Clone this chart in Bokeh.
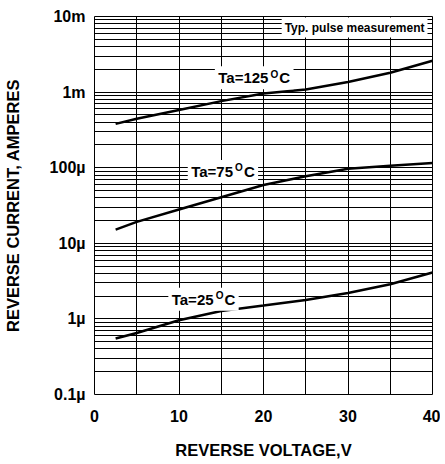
from bokeh.plotting import figure
from bokeh.models import FixedTicker, Label
from bokeh.embed import file_html
from bokeh.resources import INLINE

# ---- data ----
voltage = [2.5, 5, 10, 15, 20, 25, 30, 35, 40]
i_125 = [3.8e-4, 4.45e-4, 5.8e-4, 7.6e-4, 9.6e-4, 1.08e-3, 1.36e-3, 1.8e-3, 2.6e-3]
i_75 = [1.52e-5, 1.92e-5, 2.8e-5, 4.07e-5, 5.9e-5, 7.7e-5, 9.7e-5, 1.06e-4, 1.15e-4]
i_25 = [5.5e-7, 6.5e-7, 9.6e-7, 1.27e-6, 1.5e-6, 1.78e-6, 2.2e-6, 2.88e-6, 4.1e-6]

curve_temps = ["125", "75", "25"]
label_x = [18.9, 15.2, 12.9]
label_y = [1.6e-3, 9.2e-5, 1.87e-6]

x_ticks = [0, 10, 20, 30, 40]
x_minor = [5, 15, 25, 35]
y_ticks = [1e-7, 1e-6, 1e-5, 1e-4, 1e-3, 1e-2]
y_tick_labels = ["0.1µ", "1µ", "10µ", "100µ", "1m", "10m"]

FONT = "Liberation Sans"

p = figure(
    x_range=(0, 40), y_range=(1e-7, 1e-2), y_axis_type="log",
    frame_width=338, frame_height=378,
    min_border_left=83, min_border_right=8, min_border_top=16, min_border_bottom=60,
    output_backend="svg", toolbar_location=None,
    background_fill_color="white", border_fill_color="white",
)
p.outline_line_color = "black"
p.outline_line_width = 1

y_minor = [k * d for d in y_ticks[:-1] for k in range(2, 10)]
yt = FixedTicker(ticks=y_ticks, minor_ticks=y_minor)
xt = FixedTicker(ticks=x_ticks, minor_ticks=x_minor)
p.yaxis.ticker = yt
p.xaxis.ticker = xt
p.ygrid.ticker = yt
p.xgrid.ticker = xt

for g in (p.xgrid, p.ygrid):
    g.grid_line_color = "black"
    g.grid_line_width = 1
    g.minor_grid_line_color = "black"
    g.minor_grid_line_width = 1

p.yaxis.major_label_overrides = {t: s for t, s in zip(y_ticks, y_tick_labels)}
for ax in (p.xaxis, p.yaxis):
    ax.major_tick_line_color = None
    ax.minor_tick_line_color = None
    ax.axis_line_color = None
    ax.major_label_text_font = FONT
    ax.major_label_text_font_style = "bold"
    ax.major_label_text_font_size = "16px"
    ax.major_label_text_color = "black"
    ax.axis_label_text_font = FONT
    ax.axis_label_text_font_style = "bold"
    ax.axis_label_text_color = "black"
    ax.axis_label_text_font_size = "16.5px"

p.xaxis.axis_label = "REVERSE VOLTAGE,V"
p.yaxis.axis_label = "REVERSE CURRENT, AMPERES"
p.xaxis.major_label_standoff = 9
p.xaxis.axis_label_standoff = 16
p.yaxis.major_label_standoff = 3
p.yaxis.axis_label_standoff = 25

for ys in (i_125, i_75, i_25):
    p.line(voltage, ys, line_color="black", line_width=2.5)

# Arial-bold advance widths (em) for sizing the composed labels
W = {"T": .611, "a": .556, "=": .584, "O": .778, "C": .722}
for d in "0123456789":
    W[d] = .556


def tw(s, size):
    return sum(W[c] for c in s) * size


MAIN, SUP = 15, 10
BASE = -1.0  # baseline offset of the main text
for temp, lx, ly in zip(curve_temps, label_x, label_y):
    head = "Ta=" + temp
    w_head, w_o, w_c = tw(head, MAIN), tw("O", SUP), tw("C", MAIN)
    total = w_head + 1 + w_o + 1 + w_c
    x0 = -total / 2
    # white box behind the whole label (white text on white)
    p.add_layout(Label(
        x=lx, y=ly, text=head + "OC", text_align="center", text_baseline="alphabetic",
        y_offset=BASE, text_font=FONT, text_font_style="bold",
        text_font_size=f"{MAIN}px", text_color="white",
        background_fill_color="white", padding=3,
    ))
    parts = [
        (head, MAIN, x0, BASE),
        ("O", SUP, x0 + w_head + 1, BASE + 3.5),
        ("C", MAIN, x0 + w_head + 1 + w_o + 1, BASE),
    ]
    for txt, size, xo, yo in parts:
        p.add_layout(Label(
            x=lx, y=ly, text=txt, text_align="left", text_baseline="alphabetic",
            x_offset=xo, y_offset=yo,
            text_font=FONT, text_font_style="bold", text_font_size=f"{size}px",
            text_color="black",
        ))

p.add_layout(Label(
    x=40, y=1e-2, text="Typ. pulse measurement", text_align="right",
    text_baseline="top", x_offset=-5, y_offset=-1,
    text_font=FONT, text_font_style="bold", text_font_size="12px",
    text_color="black", background_fill_color="white", padding=3,
))

open("out.html", "w").write(file_html(p, INLINE))
